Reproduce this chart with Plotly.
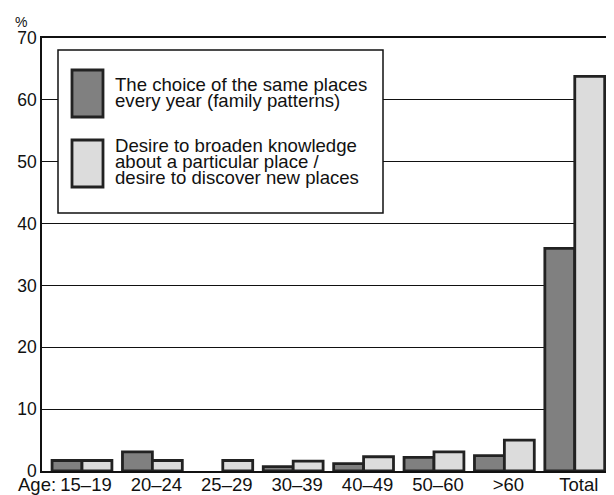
import plotly.graph_objects as go

categories = ["15–19", "20–24", "25–29", "30–39", "40–49", "50–60", ">60", "Total"]
same_places = [1.7, 3.1, None, 0.7, 1.2, 2.2, 2.5, 36.0]
new_places = [1.7, 1.7, 1.7, 1.6, 2.3, 3.1, 5.0, 63.8]
legend_dark = ["The choice of the same places", "every year (family patterns)"]
legend_light = ["Desire to broaden knowledge", "about a particular place /", "desire to discover new places"]
y_ticks = [0, 10, 20, 30, 40, 50, 60, 70]

OFF = 8  # page body margin
W, H = 614 - OFF, 495 - OFF
PL, PR, PT, PB = 42, 613, 38, 471  # plot area in page pixels
L, T = PL - OFF, PT - OFF
R, B = W - (PR - OFF), H - (PB - OFF)
PW, PH = PR - PL, PB - PT


def xp(px):
    return (px - PL) / PW


def yp(py):
    return (PB - py) / PH


FONT = "Liberation Sans, Arial, sans-serif"
DARK = "#808080"
LIGHT = "#dcdcdc"
EDGE = "#222222"

xs = list(range(len(categories)))

fig = go.Figure()
fig.add_trace(go.Bar(x=xs, y=same_places, name="same", marker=dict(color=DARK, line=dict(color=EDGE, width=2.8))))
fig.add_trace(go.Bar(x=xs, y=new_places, name="new", marker=dict(color=LIGHT, line=dict(color=EDGE, width=2.8))))

shapes = []
shapes.append(dict(type="rect", xref="paper", yref="paper", x0=xp(58), x1=xp(383), y0=yp(213), y1=yp(50),
                   line=dict(color="#111", width=1.5), fillcolor="white", layer="above"))
shapes.append(dict(type="rect", xref="paper", yref="paper", x0=xp(72), x1=xp(103), y0=yp(117), y1=yp(70),
                   line=dict(color=EDGE, width=2.8), fillcolor=DARK, layer="above"))
shapes.append(dict(type="rect", xref="paper", yref="paper", x0=xp(72), x1=xp(103), y0=yp(187), y1=yp(140),
                   line=dict(color=EDGE, width=2.8), fillcolor=LIGHT, layer="above"))
shapes.append(dict(type="line", xref="paper", yref="paper", x0=1, x1=1, y0=0, y1=1,
                   line=dict(color="#999", width=1)))

annotations = []
for i, t in enumerate(legend_dark):
    annotations.append(dict(text=t, xref="paper", yref="paper", x=xp(113), y=yp(84.4 + 16 * i),
                            xanchor="left", yanchor="middle", showarrow=False,
                            font=dict(family=FONT, size=18.6, color="#111")))
for i, t in enumerate(legend_light):
    annotations.append(dict(text=t, xref="paper", yref="paper", x=xp(113), y=yp(145.4 + 16 * i),
                            xanchor="left", yanchor="middle", showarrow=False,
                            font=dict(family=FONT, size=18.6, color="#111")))
annotations.append(dict(text="%", xref="paper", yref="paper", x=xp(13), y=yp(22), xanchor="left",
                        yanchor="middle", showarrow=False, font=dict(family=FONT, size=14, color="#111")))
annotations.append(dict(text="Age:", xref="paper", yref="paper", x=xp(16), y=yp(484.5), xanchor="left",
                        yanchor="middle", showarrow=False, font=dict(family=FONT, size=18.5, color="#111")))

fig.update_layout(
    width=W, height=H,
    margin=dict(l=L, r=R, t=T, b=B, pad=0, autoexpand=False),
    paper_bgcolor="white", plot_bgcolor="white",
    barmode="group", bargap=0.15, bargroupgap=0,
    showlegend=False,
    shapes=shapes, annotations=annotations,
    font=dict(family=FONT, size=17, color="#111"),
    xaxis=dict(range=[-0.568, 7.543], tickvals=xs, ticktext=categories, showgrid=False,
               showline=True, linecolor="#111", linewidth=1.5, mirror=True, ticks="",
               ticklabelstandoff=-4, ticklabelshift=4, automargin=False,
               tickfont=dict(family=FONT, size=18.5, color="#111"), zeroline=False, fixedrange=True),
    yaxis=dict(range=[0, 70], tickvals=y_ticks, showgrid=True, gridcolor="#111", gridwidth=1,
               showline=True, linecolor="#111", linewidth=1.5, ticks="", zeroline=False, automargin=False,
               tickfont=dict(family=FONT, size=17.5, color="#111"), fixedrange=True),
)

fig.write_html("out.html")
